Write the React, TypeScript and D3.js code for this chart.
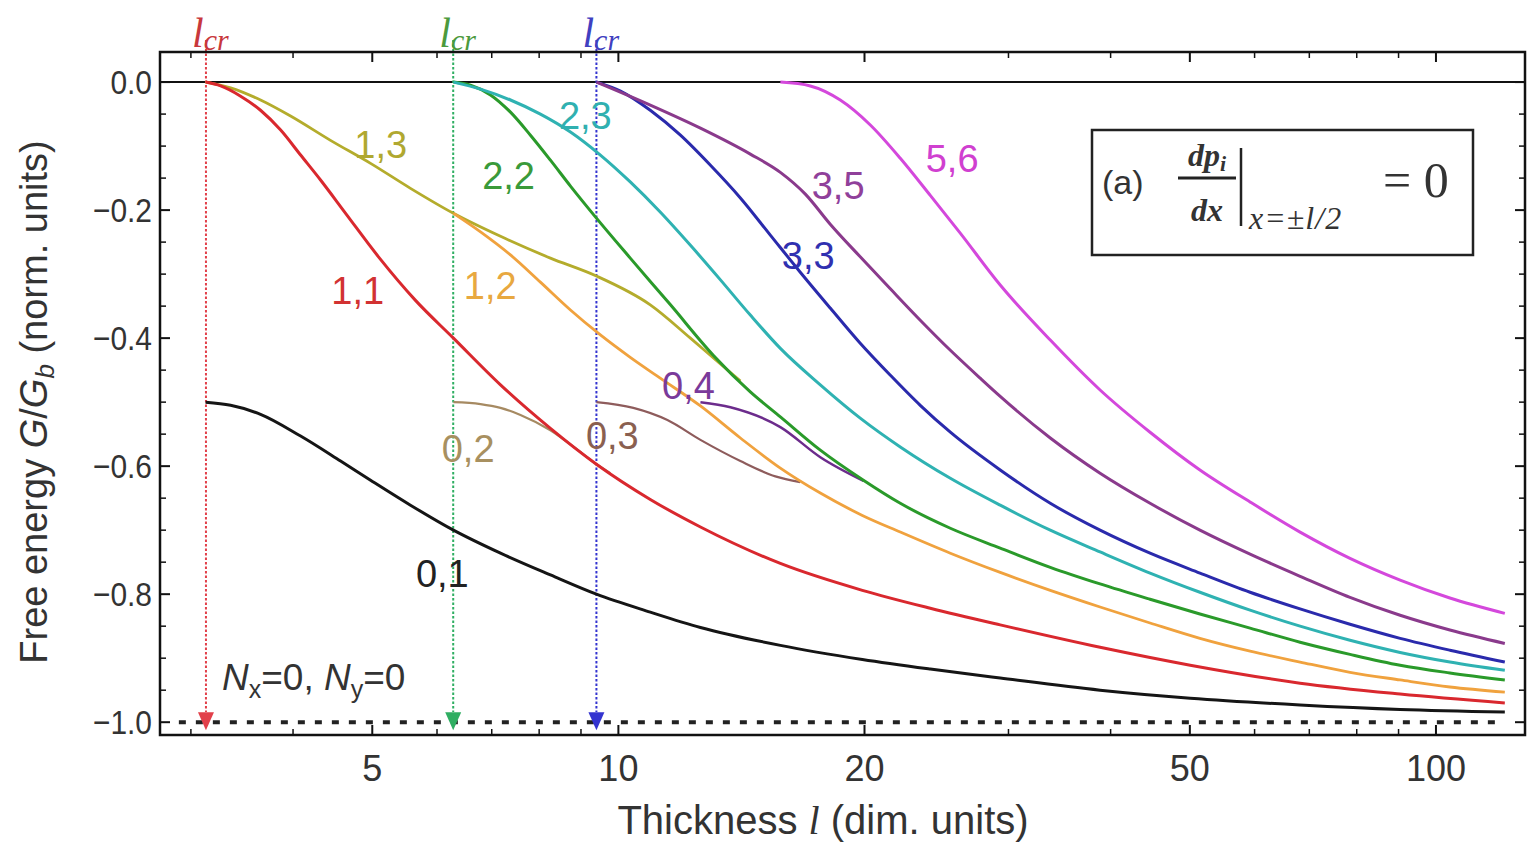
import React from "react";
import * as d3 from "d3";

type Pt = [number, number];

// axis ticks
const xMajorTicks = [5, 10, 20, 50, 100];
const xMinorTicks = [3, 4, 6, 7, 8, 9, 30, 40, 60, 70, 80, 90];
const yMajorTicks = [0, -0.2, -0.4, -0.6, -0.8, -1.0];

// critical thicknesses
const lcrValues = [3.13, 6.28, 9.4];
const lcrColors = ["#e2404a", "#2fae62", "#3434d0"];
const lcrTextColors = ["#c8383c", "#4c9a3c", "#4040c0"];

// free energy curves, [thickness l, G/Gb]
const curve01: Pt[] = [[3.127, -0.5], [3.355, -0.505], [3.65, -0.519], [4.086, -0.553], [4.573, -0.592], [4.976, -0.622], [5.568, -0.661], [6.284, -0.70], [7.175, -0.736], [8.258, -0.77], [9.4, -0.80], [10.94, -0.828], [12.6, -0.852], [15.78, -0.88], [19.88, -0.902], [24.07, -0.917], [29.31, -0.931], [38.83, -0.95], [50.05, -0.9625], [68.2, -0.973], [90.4, -0.98], [121.4, -0.984]];
const curve11: Pt[] = [[3.127, 0], [3.262, -0.006], [3.451, -0.022], [3.65, -0.044], [3.863, -0.075], [4.086, -0.114], [4.322, -0.153], [4.638, -0.205], [5.103, -0.275], [5.647, -0.341], [6.284, -0.40], [7.175, -0.473], [8.258, -0.541], [9.4, -0.597], [10.94, -0.652], [12.6, -0.695], [15.78, -0.752], [19.88, -0.794], [24.07, -0.822], [29.31, -0.848], [38.83, -0.883], [50.05, -0.911], [68.2, -0.939], [90.4, -0.956], [121.4, -0.97]];
const curve13: Pt[] = [[3.127, 0], [3.355, -0.009], [3.65, -0.028], [3.972, -0.053], [4.445, -0.091], [4.976, -0.127], [5.568, -0.166], [6.284, -0.205], [7.175, -0.241], [8.258, -0.275], [9.4, -0.303], [10.94, -0.348], [12.25, -0.40], [13.07, -0.431], [14.1, -0.467]];
const curve12: Pt[] = [[6.284, -0.205], [6.782, -0.234], [7.379, -0.27], [8.028, -0.3125], [8.737, -0.356], [9.506, -0.395], [10.34, -0.43], [11.25, -0.4625], [12.6, -0.506], [14.1, -0.556], [15.78, -0.603], [17.66, -0.642], [19.88, -0.677], [22.12, -0.703], [25.47, -0.736], [29.31, -0.766], [33.75, -0.794], [38.83, -0.82], [44.7, -0.845], [51.44, -0.869], [59.24, -0.889], [68.2, -0.906], [78.5, -0.922], [90.4, -0.934], [104.0, -0.945], [121.4, -0.953]];
const curve22: Pt[] = [[6.284, 0], [6.594, -0.005], [6.975, -0.02], [7.379, -0.047], [7.806, -0.083], [8.258, -0.122], [8.737, -0.1625], [9.4, -0.2125], [10.34, -0.275], [11.58, -0.348], [13.07, -0.427], [14.5, -0.484], [15.78, -0.523], [17.66, -0.575], [19.94, -0.622], [22.12, -0.658], [25.47, -0.697], [29.31, -0.728], [33.75, -0.758], [38.83, -0.784], [44.7, -0.808], [51.44, -0.831], [59.24, -0.853], [68.2, -0.875], [78.5, -0.894], [90.4, -0.911], [104.0, -0.923], [121.4, -0.934]];
const curve23: Pt[] = [[6.284, 0], [6.782, -0.011], [7.379, -0.028], [8.028, -0.05], [8.737, -0.078], [9.506, -0.114], [10.34, -0.156], [11.25, -0.203], [12.25, -0.255], [13.33, -0.309], [14.5, -0.364], [15.78, -0.416], [17.66, -0.473], [19.76, -0.525], [22.12, -0.57], [25.47, -0.619], [29.31, -0.661], [33.75, -0.70], [38.83, -0.734], [44.7, -0.767], [51.44, -0.797], [59.24, -0.825], [68.2, -0.85], [78.5, -0.872], [90.4, -0.891], [104.0, -0.906], [121.4, -0.919]];
const curve33: Pt[] = [[9.4, 0], [10.06, -0.014], [10.94, -0.044], [11.91, -0.083], [12.96, -0.13], [14.1, -0.181], [15.34, -0.239], [16.69, -0.297], [18.16, -0.353], [19.76, -0.408], [21.51, -0.458], [23.4, -0.505], [25.47, -0.547], [29.31, -0.606], [33.75, -0.658], [38.83, -0.70], [44.7, -0.736], [51.44, -0.767], [59.24, -0.797], [68.2, -0.823], [78.5, -0.847], [90.4, -0.869], [104.0, -0.8875], [121.4, -0.906]];
const curve35: Pt[] = [[9.4, 0], [10.94, -0.036], [12.6, -0.072], [14.5, -0.1125], [15.78, -0.141], [16.93, -0.175], [18.16, -0.222], [19.76, -0.273], [21.51, -0.323], [23.4, -0.372], [25.47, -0.419], [27.7, -0.4625], [29.31, -0.491], [33.75, -0.556], [38.83, -0.611], [44.7, -0.658], [51.44, -0.70], [59.24, -0.7375], [68.2, -0.772], [78.5, -0.805], [90.4, -0.833], [104.0, -0.856], [121.4, -0.877]];
const curve56: Pt[] = [[15.78, 0], [17.17, -0.006], [18.68, -0.028], [20.33, -0.067], [22.12, -0.119], [24.07, -0.177], [26.19, -0.236], [29.31, -0.317], [33.75, -0.403], [38.83, -0.481], [44.7, -0.547], [51.44, -0.606], [59.24, -0.656], [68.2, -0.703], [78.5, -0.744], [90.4, -0.778], [104.0, -0.806], [121.4, -0.83]];
const curve02: Pt[] = [[6.284, -0.5], [6.782, -0.503], [7.175, -0.509], [7.59, -0.52], [8.258, -0.544], [8.86, -0.572], [9.4, -0.597], [9.777, -0.611]];
const curve03: Pt[] = [[9.4, -0.5], [10.43, -0.509], [11.48, -0.528], [12.6, -0.559], [14.1, -0.592], [15.56, -0.616], [16.69, -0.625]];
const curve04: Pt[] = [[12.6, -0.5], [13.71, -0.508], [15.78, -0.539], [17.66, -0.586], [19.94, -0.623]];

const series = [
  { name: "0,2", data: curve02, color: "#a68a62", width: 2.2, label: [6.55, -0.572], labelColor: "#a89060" },
  { name: "0,3", data: curve03, color: "#8e5c5c", width: 2.2, label: [9.83, -0.552], labelColor: "#8a6050" },
  { name: "0,4", data: curve04, color: "#6c2c8c", width: 2.5, label: [12.18, -0.473], labelColor: "#7a3a9a" },
  { name: "1,3", data: curve13, color: "#b4ac2c", width: 2.8, label: [5.12, -0.098], labelColor: "#b0a830" },
  { name: "0,1", data: curve01, color: "#151515", width: 3, label: [6.09, -0.767], labelColor: "#222222" },
  { name: "1,1", data: curve11, color: "#d9282e", width: 3, label: [4.8, -0.325], labelColor: "#d23232" },
  { name: "1,2", data: curve12, color: "#f0a23e", width: 2.8, label: [6.97, -0.317], labelColor: "#e8a840" },
  { name: "2,2", data: curve22, color: "#2a9a2a", width: 3, label: [7.34, -0.145], labelColor: "#3a9a3a" },
  { name: "2,3", data: curve23, color: "#2fb2b2", width: 3, label: [9.11, -0.052], labelColor: "#30b0b0" },
  { name: "3,3", data: curve33, color: "#2a2aac", width: 3, label: [17.07, -0.27], labelColor: "#3030b0" },
  { name: "3,5", data: curve35, color: "#8a3a8c", width: 3, label: [18.57, -0.161], labelColor: "#90409a" },
  { name: "5,6", data: curve56, color: "#d448dc", width: 3, label: [25.6, -0.119], labelColor: "#d040d0" },
];

const W = 1528;
const H = 842;
const left = 160, right = 1525, top = 52, bottom = 735;

export default function App() {
  const x = d3.scaleLog().domain([2.75, 128.5]).range([left, right]);
  const y = d3.scaleLinear().domain([-1.02, 0.047]).range([bottom, top]);
  const line = d3.line<Pt>().x(d => x(d[0])).y(d => y(d[1])).curve(d3.curveMonotoneX);

  const yMinor = d3.range(-1, 0.001, 0.05).filter(v => Math.abs(Math.round(v / 0.2) * 0.2 - v) > 0.01);
  const sans = "'Liberation Sans', Arial, sans-serif";
  const serif = "'Liberation Serif', 'Times New Roman', serif";

  return (
    <svg width={W} height={H} style={{ position: "absolute", left: 0, top: 0, background: "#fff" }}>
      {/* zero level and -1 dotted level */}
      <line x1={left} x2={right} y1={y(0)} y2={y(0)} stroke="#111" strokeWidth={2} />
      <line x1={x(2.9)} x2={x(121.4)} y1={y(-1)} y2={y(-1)} stroke="#222" strokeWidth={4} strokeDasharray="7 10" />

      {/* critical thickness markers */}
      {lcrValues.map((v, i) => (
        <g key={"lcr" + i}>
          <line x1={x(v)} x2={x(v)} y1={40} y2={712} stroke={lcrColors[i]} strokeWidth={2} strokeDasharray="2.5 2" />
          <path d={`M${x(v) - 8},${y(-1) - 10} L${x(v) + 8},${y(-1) - 10} L${x(v)},${y(-1) + 8} Z`} fill={lcrColors[i]} />
          <text x={x(v) - 14} y={47} fill={lcrTextColors[i]} fontFamily={serif} fontStyle="italic" fontSize={42}>
            l<tspan fontSize={30} dy={3}>cr</tspan>
          </text>
        </g>
      ))}

      {/* curves */}
      {series.map(s => (
        <path key={s.name} d={line(s.data) || ""} fill="none" stroke={s.color} strokeWidth={s.width} strokeLinejoin="round" />
      ))}
      {series.map(s => (
        <text key={"t" + s.name} x={x(s.label[0])} y={y(s.label[1])} dy="0.36em" textAnchor="middle"
          fill={s.labelColor} fontFamily={sans} fontSize={38}>{s.name}</text>
      ))}

      {/* frame */}
      <rect x={left} y={top} width={right - left} height={bottom - top} fill="none" stroke="#111" strokeWidth={2.5} />

      {/* x ticks */}
      {xMajorTicks.map(t => (
        <g key={"xM" + t}>
          <line x1={x(t)} x2={x(t)} y1={bottom} y2={bottom - 10} stroke="#111" strokeWidth={2} />
          <line x1={x(t)} x2={x(t)} y1={top} y2={top + 10} stroke="#111" strokeWidth={2} />
          <text x={x(t)} y={bottom + 46} textAnchor="middle" fontFamily={sans} fontSize={36} fill="#333">{t}</text>
        </g>
      ))}
      {xMinorTicks.map(t => (
        <g key={"xm" + t}>
          <line x1={x(t)} x2={x(t)} y1={bottom} y2={bottom - 6} stroke="#111" strokeWidth={1.5} />
          <line x1={x(t)} x2={x(t)} y1={top} y2={top + 6} stroke="#111" strokeWidth={1.5} />
        </g>
      ))}

      {/* y ticks */}
      {yMajorTicks.map(t => (
        <g key={"yM" + t}>
          <line x1={left} x2={left + 10} y1={y(t)} y2={y(t)} stroke="#111" strokeWidth={2} />
          <line x1={right} x2={right - 10} y1={y(t)} y2={y(t)} stroke="#111" strokeWidth={2} />
          <text transform={`translate(${left - 8},${y(t)}) scale(0.88,1)`} dy="0.36em" textAnchor="end" fontFamily={sans} fontSize={34} fill="#333">
            {t === 0 ? "0.0" : "\u2212" + Math.abs(t).toFixed(1)}
          </text>
        </g>
      ))}
      {yMinor.map(t => (
        <g key={"ym" + t}>
          <line x1={left} x2={left + 6} y1={y(t)} y2={y(t)} stroke="#111" strokeWidth={1.5} />
          <line x1={right} x2={right - 6} y1={y(t)} y2={y(t)} stroke="#111" strokeWidth={1.5} />
        </g>
      ))}

      {/* axis titles */}
      <text transform="translate(47,402) rotate(-90)" textAnchor="middle" fontFamily={sans} fontSize={38} fill="#333">
        Free energy  <tspan fontStyle="italic">G</tspan>/<tspan fontStyle="italic">G</tspan><tspan fontStyle="italic" fontSize={26} dy={7}>b</tspan><tspan dy={-7}> (norm. units)</tspan>
      </text>
      <text x={823} y={834} textAnchor="middle" fontFamily={sans} fontSize={40} fill="#333">
        Thickness <tspan fontFamily={serif} fontStyle="italic">l</tspan> (dim. units)
      </text>

      {/* N_x = 0, N_y = 0 */}
      <text x={222} y={690} fontFamily={sans} fontSize={37} fill="#333">
        <tspan fontStyle="italic">N</tspan><tspan fontSize={25} dy={8}>x</tspan><tspan dy={-8}>=0, </tspan>
        <tspan fontStyle="italic">N</tspan><tspan fontSize={25} dy={8}>y</tspan><tspan dy={-8}>=0</tspan>
      </text>

      {/* boundary condition box */}
      <rect x={1092} y={130} width={381} height={125} fill="#fff" stroke="#222" strokeWidth={2.5} />
      <text x={1102} y={194} fontFamily={sans} fontSize={34} fill="#333">(a)</text>
      <text x={1207} y={166} textAnchor="middle" fontFamily={serif} fontStyle="italic" fontWeight="bold" fontSize={32} fill="#333">
        dp<tspan fontSize={22} dy={5}>i</tspan>
      </text>
      <line x1={1178} x2={1236} y1={178} y2={178} stroke="#222" strokeWidth={3} />
      <text x={1207} y={221} textAnchor="middle" fontFamily={serif} fontStyle="italic" fontWeight="bold" fontSize={32} fill="#333">dx</text>
      <line x1={1241} x2={1241} y1={148} y2={226} stroke="#222" strokeWidth={2.5} />
      <text x={1249} y={229} fontFamily={serif} fontStyle="italic" fontSize={32} fill="#333" letterSpacing={1}>x=±l/2</text>
      <text x={1383} y={197} fontFamily={serif} fontSize={50} fill="#333">= 0</text>
    </svg>
  );
}
